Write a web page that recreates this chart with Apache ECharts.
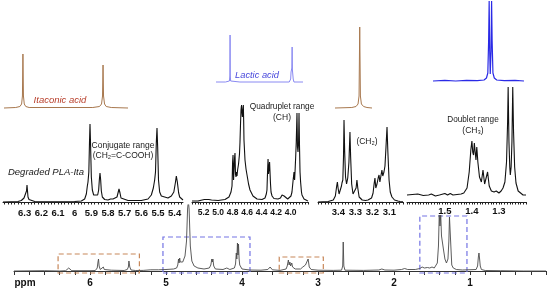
<!DOCTYPE html>
<html>
<head>
<meta charset="utf-8">
<script src="https://cdn.jsdelivr.net/npm/echarts@6/dist/echarts.min.js"></script>
<style>
  html, body { margin: 0; padding: 0; background: #fff; }
  #main { width: 550px; height: 291px; }
</style>
</head>
<body>
<div id="main"></div>
<script>
// full spectrum of degraded PLA-Ita, [ppm, intensity]
var fullSpectrum = [
  [7.0,0],[6.6,0.3],[6.4,0],[6.32,0.3],[6.295,1],[6.28,3],[6.265,1],[6.24,0.3],[6.0,0.3],
  [5.93,0.5],[5.905,3],[5.895,9],[5.888,12],[5.88,5],[5.865,1.5],[5.84,2],[5.825,4],[5.812,1.5],[5.79,0.5],
  [5.72,0.8],[5.707,2],[5.695,0.6],[5.55,0.5],[5.51,1.5],[5.495,4],[5.488,10],[5.483,12],[5.476,4],[5.46,1],
  [5.4,0.5],[5.3,0.6],[5.2,1.2],[5.1,1.2],[5.0,1.5],[4.9,2],
  [4.86,3],[4.845,6],[4.835,12],[4.828,8],[4.82,13],[4.812,9],[4.805,11],[4.795,8],[4.78,9],
  [4.75,15],[4.73,30],[4.716,62],[4.706,70],[4.696,62],[4.68,25],[4.66,10],[4.63,5],[4.58,3],[4.5,2],
  [4.43,3],[4.41,6],[4.397,12],[4.39,9],[4.383,12],[4.372,5],[4.35,2],[4.25,1.5],[4.2,3],[4.16,1.5],
  [4.1,3],[4.085,7],[4.075,18],[4.068,12],[4.06,28],[4.053,16],[4.046,27],[4.038,12],[4.03,6],[4.0,2],
  [3.9,1],[3.75,0.8],[3.66,1.5],[3.63,4],[3.6,1.2],[3.5,0.6],
  [3.42,2],[3.405,5],[3.39,11],[3.38,6],[3.37,9],[3.36,5],[3.345,8],[3.335,4],[3.3,2],
  [3.23,2],[3.2,4],[3.185,3],[3.165,6],[3.15,5],[3.13,12],[3.115,4],[3.09,1.5],[3.0,0.8],[2.8,0.6],
  [2.69,0.8],[2.675,5],[2.668,29],[2.66,5],[2.645,0.8],[2.4,0.6],[2.2,1],[2.16,2],[2.12,1],[2.0,0.8],
  [1.9,1.5],[1.86,2.5],[1.82,1.5],[1.72,1.5],[1.66,2.5],[1.63,4],[1.6,3],[1.56,3.5],[1.53,3],[1.5,4],[1.47,3],[1.45,5],
  [1.43,8],[1.415,25],[1.405,56],[1.395,45],[1.385,56],[1.375,35],[1.362,33],[1.35,22],[1.33,12],[1.31,8],
  [1.29,12],[1.278,30],[1.27,54],[1.262,54],[1.252,25],[1.24,6],[1.22,3],[1.18,1.5],[1.1,1],
  [0.92,1.5],[0.9,5],[0.89,14],[0.882,18],[0.875,13],[0.865,5],[0.85,1.5],[0.8,0.5],[0.6,0.3],[0.3,0],[0.0,0]
];

// zoomed panels
var conjugatePanel = [
  [6.43,0],[6.34,0.5],[6.32,1.5],[6.31,3],[6.304,4],[6.298,3],[6.292,6],[6.289,11],[6.286,17],[6.283,11],[6.28,5],
  [6.274,2.5],[6.262,1],[6.24,0.5],[6.1,0.3],[6.0,0.5],[5.96,1],[5.94,3],[5.93,8],[5.924,16],[5.92,20],[5.915,30],
  [5.911,60],[5.908,78],[5.905,60],[5.9,25],[5.894,12],[5.886,7],[5.874,5],[5.862,7],[5.856,12],[5.852,22],[5.848,29],
  [5.844,22],[5.84,11],[5.834,5],[5.82,2.5],[5.8,2],[5.785,3],[5.776,4],[5.77,3],[5.76,3],[5.746,5],[5.74,9],
  [5.734,13],[5.728,9],[5.722,4],[5.71,2],[5.68,1.5],[5.6,1.5],[5.56,3],[5.54,7],[5.528,14],[5.52,22],[5.515,30],
  [5.51,60],[5.506,74],[5.502,55],[5.497,22],[5.49,10],[5.48,6],[5.47,5],[5.44,4],[5.42,6],[5.405,10],[5.395,20],
  [5.39,26],[5.384,20],[5.376,9],[5.37,5],[5.36,3],[5.35,2]
];
var quadrupletPanel = [
  [5.36,1],[5.277,1],[5.22,2],[5.208,3.5],[5.19,2.5],[5.13,2.5],[5.112,3.5],[5.09,2],[5.0,1.5],[4.905,2.5],[4.85,5],
  [4.822,10],[4.808,16],[4.8,40],[4.794,47],[4.787,22],[4.78,24],[4.772,45],[4.767,49],[4.76,28],[4.753,25],[4.745,30],
  [4.739,26],[4.731,32],[4.725,30],[4.718,38],[4.712,40],[4.705,48],[4.698,60],[4.69,80],[4.684,92],[4.677,97],
  [4.671,90],[4.665,85],[4.658,92],[4.652,97],[4.647,80],[4.643,62],[4.629,42],[4.615,33],[4.601,27],[4.58,18],
  [4.56,12],[4.519,6],[4.463,3],[4.394,2.5],[4.353,4],[4.335,8],[4.326,12],[4.318,30],[4.311,43],[4.305,28],
  [4.298,30],[4.29,40],[4.284,38],[4.277,18],[4.27,10],[4.256,6],[4.23,3.5],[4.174,3],[4.14,4],[4.118,7],[4.105,8],
  [4.09,6],[4.077,4],[4.04,3],[4.022,3.5],[3.995,6],[3.981,10],[3.965,22],[3.953,30],[3.945,22],[3.939,30],[3.93,45],
  [3.922,60],[3.912,89],[3.905,55],[3.898,50],[3.89,60],[3.884,89],[3.877,55],[3.87,30],[3.862,20],[3.857,19],
  [3.85,10],[3.843,7],[3.815,3],[3.774,1.5],[3.76,1]
];
var ch2Panel = [
  [3.52,0],[3.46,0.5],[3.43,2],[3.418,6],[3.41,16],[3.406,20],[3.402,14],[3.396,8],[3.388,10],[3.382,16],[3.379,19],
  [3.374,22],[3.37,45],[3.367,82],[3.363,50],[3.358,25],[3.352,18],[3.345,24],[3.338,40],[3.332,70],[3.328,45],
  [3.322,18],[3.314,8],[3.304,7],[3.296,14],[3.291,22],[3.286,14],[3.278,5],[3.26,2],[3.24,1.5],[3.226,2],[3.215,2],
  [3.205,4],[3.196,9],[3.19,18],[3.185,24],[3.18,14],[3.173,18],[3.166,24],[3.161,27],[3.156,20],[3.15,26],[3.144,32],
  [3.139,26],[3.132,30],[3.126,36],[3.12,55],[3.114,75],[3.109,50],[3.102,22],[3.095,10],[3.085,5],[3.07,2],[3.05,1],
  [3.038,0.5],[3.02,0.3]
];
var doubletPanel = [
  [1.64,7],[1.62,7.5],[1.6,8],[1.58,6.5],[1.56,7],[1.55,8],[1.535,6],[1.52,7],[1.5,8.5],[1.49,7],[1.48,8.5],[1.47,7],
  [1.455,7.5],[1.44,8],[1.43,9],[1.418,14],[1.41,30],[1.404,52],[1.4,61],[1.397,50],[1.394,47],[1.391,59],[1.388,50],
  [1.385,42],[1.382,55],[1.378,40],[1.372,25],[1.365,20],[1.359,32],[1.353,18],[1.348,19],[1.342,30],[1.336,16],
  [1.328,11],[1.318,10],[1.31,11],[1.3,9],[1.292,11],[1.285,14],[1.278,20],[1.272,40],[1.268,80],[1.266,115],
  [1.263,60],[1.26,35],[1.258,27],[1.255,35],[1.252,60],[1.249,115],[1.246,70],[1.242,35],[1.237,19],[1.229,11],
  [1.222,9],[1.211,7],[1.2,7]
];

// reference spectra on top
var itaconicRef = [
  [6.43,0],[6.36,0.5],[6.335,1.5],[6.325,4],[6.32,12],[6.317,54],[6.314,12],[6.309,4],[6.3,1.5],[6.28,0.5],
  [5.9,0.5],[5.86,1.5],[5.848,4],[5.842,12],[5.839,43],[5.836,12],[5.83,4],[5.82,1.5],[5.79,0.5],[5.69,0]
];
var lacticRef = [
  [5.03,0],[4.9,0],[4.845,1],[4.839,6],[4.836,47],[4.833,6],[4.828,1],[4.7,0],[4.02,0],[4.0,3],[3.995,10],
  [3.99,12],[3.984,14],[3.98,35],[3.976,12],[3.97,10],[3.965,3],[3.955,0],[3.83,0]
];
var itaconicCH2Ref = [
  [3.42,0],[3.32,0.5],[3.295,1.5],[3.283,4],[3.277,12],[3.273,81],[3.269,12],[3.263,4],[3.25,1.5],[3.23,0.5],[3.2,0]
];
var lacticCH3Ref = [
  [1.544,0],[1.5,0.6],[1.46,0],[1.42,0.6],[1.38,0.3],[1.355,1],[1.346,3],[1.341,8],[1.338,40],[1.336,80],[1.334,30],
  [1.332,7],[1.331,7],[1.329,30],[1.327,80],[1.325,40],[1.322,8],[1.317,3],[1.308,1],[1.28,0.3],[1.24,0.6],[1.207,0]
];

// dashed boxes on the full spectrum: [ppm from, ppm to, intensity top]
var orangeBoxes = [[6.42, 5.35, 17], [3.51, 2.93, 14]];
var blueBoxes = [[5.04, 3.895, 34], [1.66, 1.04, 55]];

// tick labels
var fullTicks = [6, 5, 4, 3, 2, 1];
var conjugateTicks = [6.3, 6.2, 6.1, 6, 5.9, 5.8, 5.7, 5.6, 5.5, 5.4];
var quadrupletTicks = [5.2, 5.0, 4.8, 4.6, 4.4, 4.2, 4.0];
var ch2Ticks = [3.4, 3.3, 3.2, 3.1];
var doubletTicks = [1.5, 1.4, 1.3];

function denseTicks(from, to, step) {
  var out = [];
  for (var v = from; v <= to + 1e-9; v += step) out.push(Math.round(v * 1000) / 1000);
  return out;
}

var FONT = '"Liberation Sans", Arial, sans-serif';
var myChart = echarts.init(document.getElementById('main'), null, { renderer: 'canvas' });

var grids = [
  { left: 14, top: 205, width: 532, height: 69 },   // full spectrum
  { left: 3, top: 80, width: 180, height: 125 },    // conjugate
  { left: 192, top: 80, width: 116, height: 125 },  // quadruplet
  { left: 318, top: 80, width: 85, height: 124 },   // CH2
  { left: 407, top: 80, width: 119, height: 123 },  // doublet
  { left: 4, top: 0, width: 124, height: 111 },     // itaconic ref
  { left: 216, top: 0, width: 87, height: 85 },     // lactic ref
  { left: 335, top: 0, width: 37, height: 111 },    // itaconic CH2 ref
  { left: 433, top: 0, width: 91, height: 84 }      // lactic CH3 ref
];

function panelAxis(idx, min, max, labels, tickStep, fmt, size) {
  return {
    type: 'value', gridIndex: idx, min: min, max: max, inverse: true,
    splitLine: { show: false },
    axisLine: { show: true, lineStyle: { color: '#222', width: 1 } },
    axisTick: { show: true, length: 2.5, lineStyle: { color: '#222', width: 1 },
      customValues: denseTicks(Math.ceil(min / tickStep) * tickStep, max, tickStep) },
    axisLabel: { show: true, customValues: labels, margin: 3, color: '#111',
      fontFamily: FONT, fontWeight: 'bold', fontSize: size, formatter: fmt }
  };
}
function hiddenX(idx, min, max) {
  return { type: 'value', gridIndex: idx, min: min, max: max, inverse: true, show: false, splitLine: { show: false } };
}
function hiddenY(idx, min, max) {
  return { type: 'value', gridIndex: idx, min: min, max: max, show: false, splitLine: { show: false } };
}

var xAxes = [
  {
    type: 'value', gridIndex: 0, min: 0, max: 7, interval: 1, inverse: true,
    splitLine: { show: false },
    axisLine: { show: true, lineStyle: { color: '#333', width: 1 } },
    axisTick: { show: true, length: 4, lineStyle: { color: '#333' } },
    minorTick: { show: true, splitNumber: 5, length: 4, lineStyle: { color: '#333' } },
    axisLabel: { margin: 4, color: '#111', fontFamily: FONT, fontWeight: 'bold', fontSize: 10,
      formatter: function (v) { return fullTicks.indexOf(v) >= 0 ? String(v) : ''; } }
  },
  panelAxis(1, 5.35, 6.43, conjugateTicks, 0.02, function (v) { return String(v); }, 9.5),
  panelAxis(2, 3.76, 5.36, quadrupletTicks, 0.04, function (v) { return v.toFixed(1); }, 8.5),
  panelAxis(3, 3.02, 3.52, ch2Ticks, 0.02, function (v) { return v.toFixed(1); }, 9.5),
  panelAxis(4, 1.2, 1.64, doubletTicks, 0.01, function (v) { return v.toFixed(1); }, 9.5),
  hiddenX(5, 5.69, 6.43),
  hiddenX(6, 3.83, 5.03),
  hiddenX(7, 3.2, 3.42),
  hiddenX(8, 1.207, 1.544)
];
var yAxes = [
  hiddenY(0, -3, 66),
  hiddenY(1, -3, 122),
  hiddenY(2, -3, 122),
  hiddenY(3, -2, 122),
  hiddenY(4, -1, 122),
  hiddenY(5, -3, 108),
  hiddenY(6, -3, 82),
  hiddenY(7, -3, 108),
  hiddenY(8, -3, 81)
];

function spectrum(idx, data, color, width) {
  return {
    type: 'line', xAxisIndex: idx, yAxisIndex: idx, data: data,
    showSymbol: false, symbol: 'none', smooth: false, clip: true,
    lineStyle: { color: color, width: width || 1 }
  };
}

function boxArea(list, color) {
  return list.map(function (b) {
    return [{ coord: [b[0], -2], itemStyle: { color: 'rgba(0,0,0,0)', borderColor: color, borderWidth: 1.2, borderType: [5, 3] } },
            { coord: [b[1], b[2]] }];
  });
}

var full = spectrum(0, fullSpectrum, '#4a4a4a', 0.9);
full.markArea = {
  silent: true,
  data: boxArea(orangeBoxes, '#c8885a').concat(boxArea(blueBoxes, '#7474e4'))
};

function txt(x, y, text, size, color, style, weight) {
  return {
    type: 'text', x: x, y: y, silent: true,
    style: { text: text, fill: color || '#111', align: 'center', verticalAlign: 'middle',
      font: (style || 'normal') + ' ' + (weight || 'normal') + ' ' + size + 'px ' + FONT }
  };
}

var option = {
  animation: false,
  backgroundColor: '#fff',
  grid: grids,
  xAxis: xAxes,
  yAxis: yAxes,
  series: [
    full,
    spectrum(1, conjugatePanel, '#111', 1.1),
    spectrum(2, quadrupletPanel, '#111', 1.1),
    spectrum(3, ch2Panel, '#111', 1.1),
    spectrum(4, doubletPanel, '#111', 1.1),
    spectrum(5, itaconicRef, '#a8784e', 1),
    spectrum(6, lacticRef, '#8a8af2', 1),
    spectrum(7, itaconicCH2Ref, '#a8784e', 1),
    spectrum(8, lacticCH3Ref, '#2a2ae6', 1.2)
  ],
  graphic: [
    txt(60, 100, 'Itaconic acid', 9.5, '#b8402c', 'italic'),
    txt(257, 75, 'Lactic acid', 9.3, '#4848dc', 'italic'),
    txt(46, 172, 'Degraded PLA-Ita', 9.5, '#1a1a1a', 'italic'),
    txt(123, 146, 'Conjugate range', 8.5, '#1a1a1a'),
    txt(123, 156, '(CH\u2082=C-COOH)', 8.5, '#1a1a1a'),
    txt(282, 107, 'Quadruplet range', 8.3, '#1a1a1a'),
    txt(282, 118, '(CH)', 8.5, '#1a1a1a'),
    txt(367, 142, '(CH\u2082)', 8.5, '#1a1a1a'),
    txt(473, 120, 'Doublet range', 8.2, '#1a1a1a'),
    txt(473, 131, '(CH\u2083)', 8.5, '#1a1a1a'),
    txt(25, 283, 'ppm', 10, '#111', 'normal', 'bold')
  ]
};

myChart.setOption(option);
</script>
</body>
</html>
